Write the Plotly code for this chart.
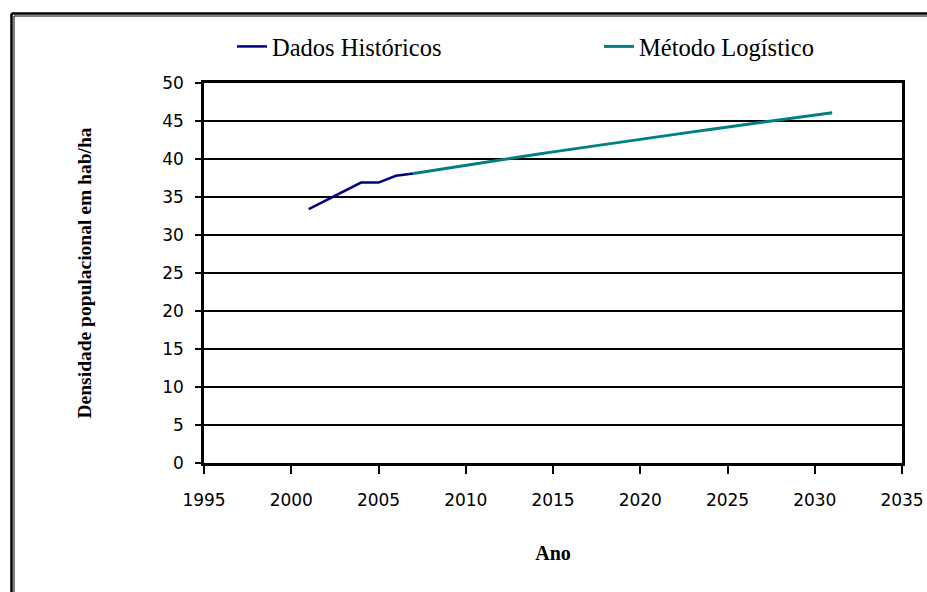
import plotly.graph_objects as go

# Historical population density (hab/ha)
hist_years = [2001, 2002, 2003, 2004, 2005, 2006, 2007]
hist_values = [33.4, 34.6, 35.8, 36.9, 36.9, 37.8, 38.1]

# Logistic projection
proj_years = list(range(2007, 2032))
proj_values = [38.10, 38.47, 38.83, 39.19, 39.55, 39.90, 40.25, 40.60, 40.94,
               41.28, 41.62, 41.95, 42.28, 42.61, 42.93, 43.25, 43.57, 43.89,
               44.20, 44.51, 44.82, 45.15, 45.47, 45.79, 46.10]

x_ticks = list(range(1995, 2036, 5))
y_ticks = list(range(0, 51, 5))

W, H = 927, 592
L, R, T, B = 204, 902, 83, 463  # plot area in pixels

fig = go.Figure()
fig.add_trace(go.Scatter(x=hist_years, y=hist_values, mode="lines",
                         name="Dados Históricos",
                         line=dict(color="#000080", width=2.5)))
fig.add_trace(go.Scatter(x=proj_years, y=proj_values, mode="lines",
                         name="Método Logístico",
                         line=dict(color="#008080", width=3)))

# double frame around the chart area (left and top edges)
frame = []
for px, w in [(11.5, 2.5), (14, 1)]:
    frame.append(dict(type="line", xref="paper", yref="paper",
                      x0=px / W, x1=px / W, y0=0, y1=1 - (px + 2) / H,
                      line=dict(color="black", width=w)))
    frame.append(dict(type="line", xref="paper", yref="paper",
                      x0=px / W, x1=1, y0=1 - (px + 2) / H, y1=1 - (px + 2) / H,
                      line=dict(color="black", width=w)))

fig.update_layout(
    width=W, height=H, autosize=False,
    margin=dict(l=0, r=0, t=0, b=0, autoexpand=False),
    paper_bgcolor="white", plot_bgcolor="white",
    shapes=frame,
    showlegend=True,
    legend=dict(orientation="h", x=232 / W, y=1 - 24 / H,
                xanchor="left", yanchor="top",
                font=dict(family="Liberation Serif", size=24.5, color="black"),
                entrywidth=322, entrywidthmode="pixels",
                bgcolor="rgba(0,0,0,0)"),
    xaxis=dict(domain=[L / W, R / W], range=[1995, 2035],
               tickvals=x_ticks, ticktext=[str(v) for v in x_ticks],
               showgrid=False, zeroline=False,
               showline=True, linecolor="black", linewidth=2.5, mirror=True,
               ticks="outside", ticklen=8, tickwidth=1.5, tickcolor="black",
               ticklabelstandoff=12,
               tickfont=dict(family="DejaVu Sans", size=17, color="black"),
               title=dict(text="<b>Ano</b>", standoff=37,
                          font=dict(family="Liberation Serif", size=20, color="black"))),
    yaxis=dict(domain=[1 - B / H, 1 - T / H], range=[0, 50],
               tickvals=y_ticks, ticktext=[str(v) for v in y_ticks],
               showgrid=True, gridcolor="black", gridwidth=1.5, zeroline=False,
               showline=True, linecolor="black", linewidth=2.5, mirror=True,
               ticks="outside", ticklen=6, tickwidth=1.5, tickcolor="black",
               ticklabelstandoff=8,
               tickfont=dict(family="DejaVu Sans", size=17, color="black"),
               title=dict(text="<b>Densidade populacional em hab/ha</b>", standoff=66,
                          font=dict(family="Liberation Serif", size=19.5, color="black"))),
)

fig.write_html("out.html")
